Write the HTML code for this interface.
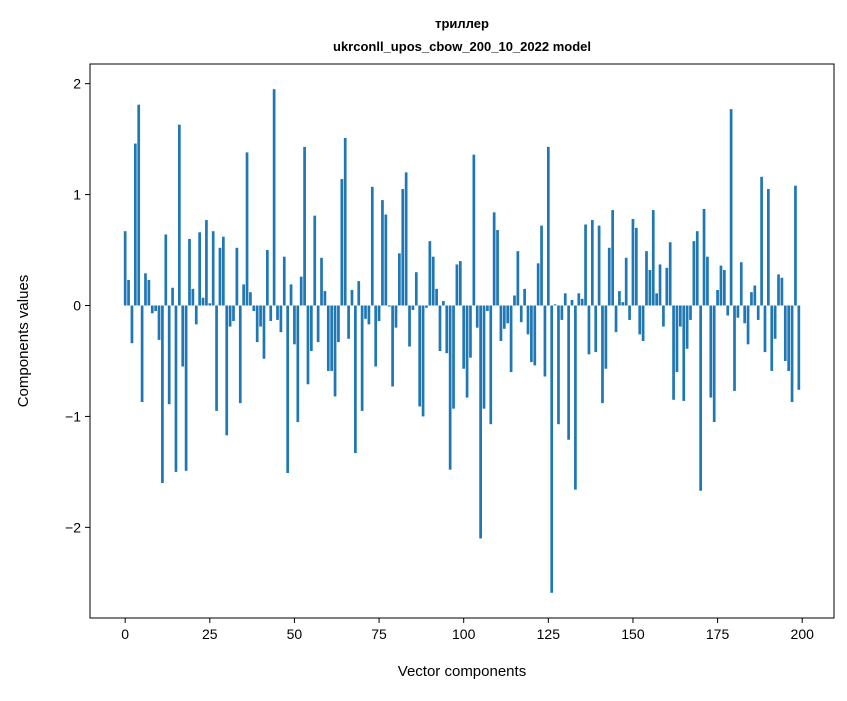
<!DOCTYPE html>
<html><head><meta charset="utf-8"><style>
body{margin:0;background:#fff;}
svg text{font-family:"Liberation Sans","DejaVu Sans",sans-serif;fill:#000;}
</style></head><body>
<svg id="chart" width="847" height="696" xmlns="http://www.w3.org/2000/svg">
<rect width="847" height="696" fill="#fff"/>
<text x="462" y="28" text-anchor="middle" font-size="13" font-weight="bold">триллер</text>
<text x="462" y="51" text-anchor="middle" font-size="13" font-weight="bold">ukrconll_upos_cbow_200_10_2022 model</text>
<g id="bars"></g>
<g id="xticks"></g>
<g id="yticks"></g>
<rect x="90" y="64" width="744" height="554" fill="none" stroke="#000" stroke-width="1"/>
<text x="462" y="676" text-anchor="middle" font-size="15">Vector components</text>
<text transform="translate(28,341) rotate(-90)" text-anchor="middle" font-size="15">Components values</text>
</svg>
<script>
const values = [0.67,0.23,-0.34,1.46,1.81,-0.87,0.29,0.23,-0.07,-0.05,
-0.31,-1.60,0.64,-0.89,0.16,-1.50,1.63,-0.55,-1.49,0.60,
0.15,-0.17,0.66,0.07,0.77,0.02,0.67,-0.95,0.52,0.62,
-1.17,-0.19,-0.14,0.52,-0.88,0.19,1.38,0.12,-0.05,-0.33,
-0.19,-0.48,0.50,-0.14,1.95,-0.13,-0.24,0.44,-1.51,0.19,
-0.35,-1.05,0.26,1.43,-0.71,-0.41,0.81,-0.33,0.43,0.13,
-0.59,-0.59,-0.82,-0.33,1.14,1.51,-0.30,0.14,-1.33,0.22,
-0.95,-0.12,-0.17,1.07,-0.55,-0.14,0.95,0.82,-0.01,-0.73,
-0.20,0.47,1.05,1.20,-0.37,-0.04,0.30,-0.91,-1.00,-0.02,
0.58,0.44,0.15,-0.41,0.04,-0.43,-1.48,-0.93,0.37,0.40,
-0.57,-0.83,-0.47,1.36,-0.20,-2.10,-0.93,-0.05,-1.07,0.84,
0.68,-0.32,-0.21,-0.16,-0.60,0.09,0.49,-0.15,0.15,-0.26,
-0.51,-0.54,0.38,0.72,-0.64,1.43,-2.59,0.01,-1.07,-0.13,
0.11,-1.21,0.05,-1.66,0.11,0.06,0.73,-0.44,0.77,-0.42,
0.72,-0.88,-0.57,0.52,0.86,-0.24,0.13,0.03,0.43,-0.13,
0.78,0.70,-0.26,-0.32,0.49,0.32,0.86,0.11,0.37,-0.19,
0.34,0.57,-0.85,-0.60,-0.19,-0.86,-0.39,-0.13,0.58,0.67,
-1.67,0.87,0.44,-0.83,-1.05,0.14,0.36,0.32,-0.09,1.77,
-0.77,-0.11,0.39,-0.16,-0.35,0.12,0.18,-0.13,1.16,-0.42,
1.05,-0.59,-0.30,0.28,0.25,-0.50,-0.59,-0.87,1.08,-0.76];
const xTickValues = [0,25,50,75,100,125,150,175,200];
const yTickValues = [-2,-1,0,1,2];
const yTickLabels = ["\u22122","\u22121","0","1","2"];

const NS="http://www.w3.org/2000/svg";
const L=90,R=834,T=64,B=618;
const n=values.length;
const xmin=-0.4-0.05*(n-0.2), xmax=n-1+0.4+0.05*(n-0.2);
const vmin=Math.min(0,...values), vmax=Math.max(0,...values);
const ymin=vmin-0.05*(vmax-vmin), ymax=vmax+0.05*(vmax-vmin);
const xs=v=>L+(v-xmin)/(xmax-xmin)*(R-L);
const ys=v=>B-(v-ymin)/(ymax-ymin)*(B-T);

const bars=document.getElementById('bars');
values.forEach((v,i)=>{
  const r=document.createElementNS(NS,'rect');
  const x0=xs(i-0.4), x1=xs(i+0.4);
  const y0=ys(Math.max(v,0)), y1=ys(Math.min(v,0));
  r.setAttribute('x',x0);r.setAttribute('width',x1-x0);
  r.setAttribute('y',y0);r.setAttribute('height',Math.max(y1-y0,0.01));
  r.setAttribute('fill','#1f77b4');
  
  
  bars.appendChild(r);
});
const xg=document.getElementById('xticks');
xTickValues.forEach(t=>{
  const x=xs(t);
  const l=document.createElementNS(NS,'line');
  l.setAttribute('x1',x);l.setAttribute('x2',x);l.setAttribute('y1',B);l.setAttribute('y2',B+5);
  l.setAttribute('stroke','#000');
  
  
  xg.appendChild(l);
  const tx=document.createElementNS(NS,'text');
  tx.setAttribute('x',x);tx.setAttribute('y',B+21);tx.setAttribute('text-anchor','middle');tx.setAttribute('font-size','14');
  tx.textContent=t;
  
  
  xg.appendChild(tx);
});
const yg=document.getElementById('yticks');
yTickValues.forEach((t,i)=>{
  const y=ys(t);
  const l=document.createElementNS(NS,'line');
  l.setAttribute('x1',L-5);l.setAttribute('x2',L);l.setAttribute('y1',y);l.setAttribute('y2',y);
  l.setAttribute('stroke','#000');
  
  
  yg.appendChild(l);
  const tx=document.createElementNS(NS,'text');
  tx.setAttribute('x',L-9);tx.setAttribute('y',y+5);tx.setAttribute('text-anchor','end');tx.setAttribute('font-size','14');
  tx.textContent=yTickLabels[i];
  
  
  yg.appendChild(tx);
});
</script>
</body></html>
